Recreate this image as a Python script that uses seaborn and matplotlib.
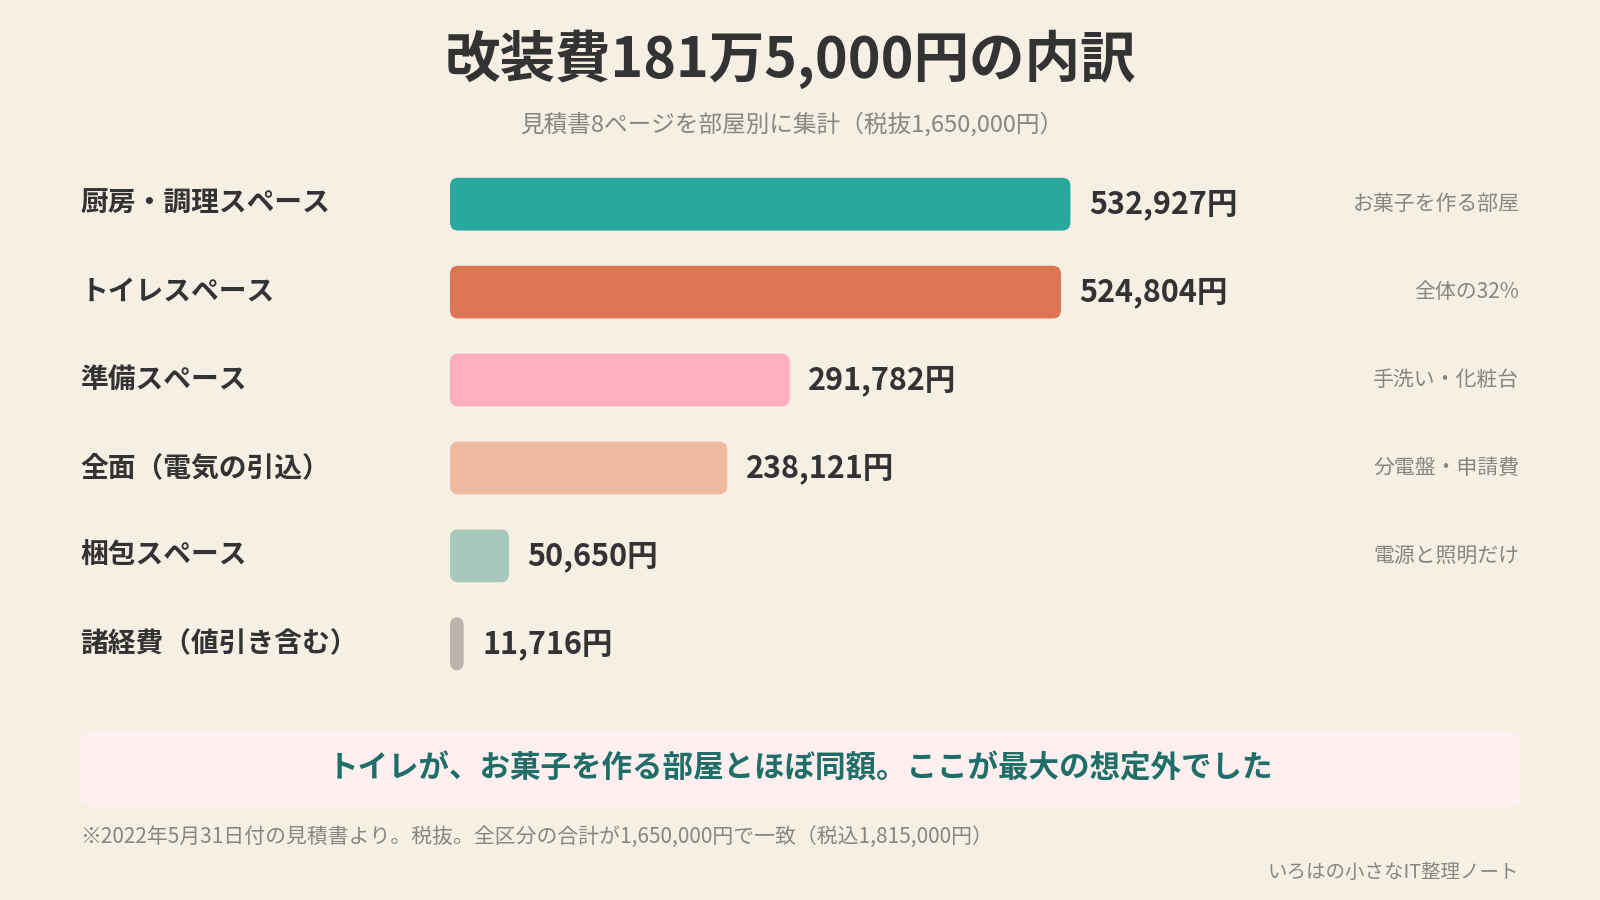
import matplotlib
matplotlib.use("Agg")
import matplotlib.pyplot as plt
import seaborn as sns
import pandas as pd
from matplotlib.patches import FancyBboxPatch

categories = ["厨房・調理スペース", "トイレスペース", "準備スペース", "全面（電気の引込）", "梱包スペース", "諸経費（値引き含む）"]
values = [532927, 524804, 291782, 238121, 50650, 11716]
notes = ["お菓子を作る部屋", "全体の32%", "手洗い・化粧台", "分電盤・申請費", "電源と照明だけ", ""]
colors = ["#2aa8a0", "#dc7655", "#ffaec0", "#f0b9a0", "#a7c8bb", "#bdb3aa"]

sns.set_theme(style="white")
plt.rcParams['font.family'] = ['Noto Sans CJK JP', 'DejaVu Sans']
BG = "#f6efe3"
W, H = 1568, 882
def fx(x): return x / W
def fy(y): return 1 - y / H

fig = plt.figure(figsize=(16, 9), dpi=100, facecolor=BG)
left, right, top, bot = 441, 1568, 157, 674
ax = fig.add_axes([fx(left), fy(bot), fx(right - left), (bot - top) / H])
ax.set_facecolor("none")
df = pd.DataFrame({"cat": categories, "val": values})
sns.barplot(data=df, x="val", y="cat", hue="cat", palette=colors, legend=False, ax=ax, width=0.6)
px_per_val = 608 / 532927
ax.set_xlim(0, (right - left) / px_per_val)
ax.set_ylim(5.5, -0.5)
rx = 8 / px_per_val
ry = 8 / ((bot - top) / 6)
for p, c in zip(list(ax.patches), colors):
    x0, y0, w, h = p.get_x(), p.get_y(), p.get_width(), p.get_height()
    p.set_visible(False)
    rs = min(rx, w / 2)
    ax.add_patch(FancyBboxPatch((x0, y0), w, h, boxstyle=f"round,pad=0,rounding_size={rs}",
                                mutation_aspect=ry / rs, fc=c, ec="none"))
for i, v in enumerate(values):
    ax.text(v + 18 / px_per_val, i, f"{v:,}円", va="center", ha="left", fontsize=22,
            fontweight="bold", color="#333333")
ax.axis("off")

for i, (c, n) in enumerate(zip(categories, notes)):
    y = 200 + i * 86.2
    fig.text(fx(79), fy(y), c, ha="left", va="center", fontsize=20, fontweight="bold", color="#333333")
    if n:
        fig.text(fx(1489), fy(y), n, ha="right", va="center", fontsize=15, color="#8a8580")

fig.text(0.5 * 1568 / W - 0.006, fy(58), "改装費181万5,000円の内訳", ha="center", va="center",
         fontsize=40, fontweight="bold", color="#333333")
fig.text(fx(776), fy(122), "見積書8ページを部屋別に集計（税抜1,650,000円）", ha="center", va="center",
         fontsize=17, color="#8a8580")

fig.patches.append(FancyBboxPatch((fx(79), fy(792)), fx(1490 - 79), (792 - 716) / H,
                                  boxstyle="round,pad=0,rounding_size=0.012", transform=fig.transFigure,
                                  fc="#fdeef0", ec="none", mutation_aspect=H / W * 1.6))
fig.text(fx(784), fy(753), "トイレが、お菓子を作る部屋とほぼ同額。ここが最大の想定外でした", ha="center",
         va="center", fontsize=22, fontweight="bold", color="#1f6f68")
fig.text(fx(79), fy(820), "※2022年5月31日付の見積書より。税抜。全区分の合計が1,650,000円で一致（税込1,815,000円）",
         ha="left", va="center", fontsize=15, color="#8a8580")
fig.text(fx(1489), fy(855), "いろはの小さなIT整理ノート", ha="right", va="center", fontsize=14, color="#8a8580")

fig.savefig("out.png", facecolor=BG)
